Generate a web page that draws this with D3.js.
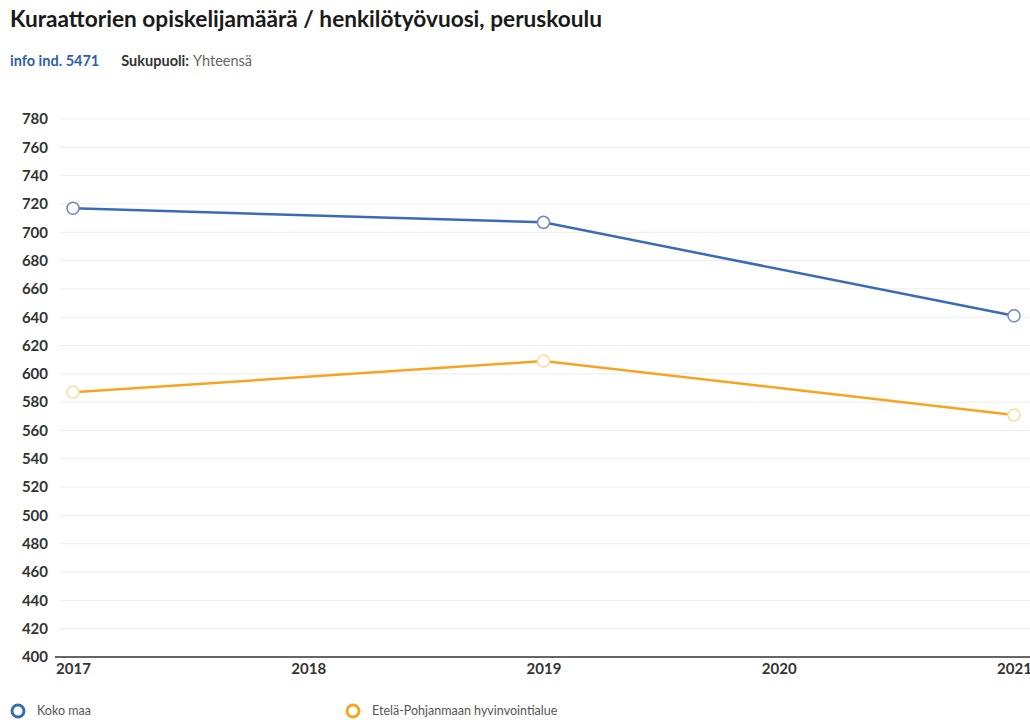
<!DOCTYPE html>
<html><head><meta charset="utf-8">
<script src="https://cdn.jsdelivr.net/npm/d3@7"></script>
<style>
body{margin:0;background:#fff;}
svg{display:block;font-family:Lato,"Open Sans",sans-serif;}
</style></head>
<body><svg id="c" width="1030" height="720"></svg>
<script>
const years = [2017, 2019, 2021];
const xTicks = [2017, 2018, 2019, 2020, 2021];
const yTicks = d3.range(400, 781, 20);
const kokoMaa = [717, 707, 641];
const etelaPohjanmaa = [587, 609, 571];
const seriesNames = ["Koko maa", "Etelä-Pohjanmaan hyvinvointialue"];
const seriesColors = ["#3a6bb9", "#f7a521"];
const title = "Kuraattorien opiskelijamäärä / henkilötyövuosi, peruskoulu";

const svg = d3.select("#c");
const x = d3.scaleLinear().domain([2017, 2021]).range([73, 1014]);
const y = d3.scaleLinear().domain([400, 780]).range([657, 119]);

svg.append("text").attr("x", 10).attr("y", 27).attr("font-size", 22).attr("font-weight", 700)
  .attr("fill", "#1a1a1a").attr("textLength", 592).attr("lengthAdjust", "spacingAndGlyphs").text(title);
const sub = svg.append("text").attr("x", 10).attr("y", 66).attr("font-size", 14.5);
sub.append("tspan").attr("font-weight", 700).attr("fill", "#2f5fa8").text("info ind. 5471");
sub.append("tspan").attr("dx", 22).attr("font-weight", 700).attr("fill", "#333").text("Sukupuoli:");
sub.append("tspan").attr("dx", 4).attr("fill", "#666").text("Yhteensä");

// grid
svg.append("g").selectAll("line").data(yTicks.filter(d => d > 400)).join("line")
  .attr("x1", 60).attr("x2", 1030).attr("y1", d => y(d)).attr("y2", d => y(d))
  .attr("stroke", "#ececec").attr("stroke-width", 1);

// y axis
const yAxis = svg.append("g").attr("transform", "translate(48,0)")
  .call(d3.axisLeft(y).tickValues(yTicks).tickSize(0).tickPadding(0).tickFormat(d3.format("d")));
yAxis.select(".domain").remove();
yAxis.selectAll("text").attr("font-family", "Lato, sans-serif").attr("font-size", 15)
  .attr("font-weight", 700).attr("fill", "#333");

// x axis
const xAxis = svg.append("g").attr("transform", "translate(0,657)")
  .call(d3.axisBottom(x).tickValues(xTicks).tickSize(0).tickPadding(6).tickFormat(d3.format("d")));
xAxis.select(".domain").remove();
xAxis.selectAll("text").attr("font-family", "Lato, sans-serif").attr("font-size", 15)
  .attr("font-weight", 700).attr("fill", "#333");
svg.append("line").attr("x1", 55).attr("x2", 1030).attr("y1", y(400)).attr("y2", y(400))
  .attr("stroke", "#666").attr("stroke-width", 2);

const series = [kokoMaa, etelaPohjanmaa];
const line = d3.line().x((d, i) => x(years[i])).y(d => y(d));
series.forEach((vals, s) => {
  svg.append("path").attr("d", line(vals)).attr("fill", "none")
    .attr("stroke", seriesColors[s]).attr("stroke-width", 2.5);
  svg.append("g").selectAll("circle").data(vals).join("circle")
    .attr("cx", (d, i) => x(years[i])).attr("cy", d => y(d)).attr("r", 6)
    .attr("fill", "#fff").attr("stroke", s === 0 ? "#7388b0" : "#f2dfa0").attr("stroke-width", 1.5);
});

// legend
const legX = [18, 353];
seriesNames.forEach((n, s) => {
  svg.append("circle").attr("cx", legX[s]).attr("cy", 711).attr("r", 6)
    .attr("fill", "#fff").attr("stroke", seriesColors[s]).attr("stroke-width", 3);
  svg.append("text").attr("x", legX[s] + 19).attr("y", 715).attr("font-size", 12.5)
    .attr("fill", "#555").text(n);
});
</script></body></html>
